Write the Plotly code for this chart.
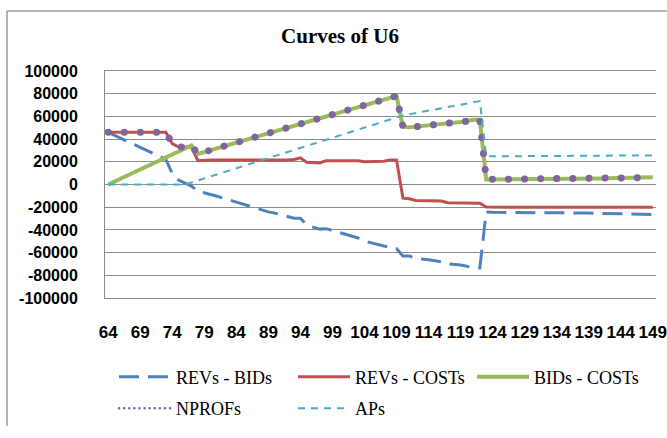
import plotly.graph_objects as go

# ---- data ----
periods = list(range(64, 150))
tick_vals = [64, 69, 74, 79, 84, 89, 94, 99, 104, 109, 114, 119, 124, 129, 134, 139, 144, 149]
tick_text = [str(v) for v in tick_vals]
y_ticks = [100000, 80000, 60000, 40000, 20000, 0, -20000, -40000, -60000, -80000, -100000]
y_text = ["100000", "80000", "60000", "40000", "20000", "0", "-20000", "-40000", "-60000", "-80000", "-100000"]

revs_bids = [46000, 43350, 40700, 38050, 35400, 32750, 30100, 27450, 24800, 22150,
             9500, 3850, 1200, -1400, -6000,
             -7100, -8800, -10400, -12100, -13700, -15400, -17500, -19200, -20800, -22500,
             -24100, -25200, -26900, -28500, -29700,
             -29800, -35500, -37600, -39300, -38900, -40600, -42200, -43800, -45500, -47100,
             -49800, -51400, -53100, -54200, -54900, -56500,
             -63000, -63000, -65000, -65500, -66400, -67200, -68100, -69900, -70200, -71000,
             -72000, -73500, -73500,
             -24300, -24500, -24500, -24500, -24600, -24600, -24700, -24800, -24800, -24900,
             -25000, -25000, -25000, -25000, -25100, -25100, -25200, -25300, -25300, -25400,
             -25500, -25600, -25700, -25800, -26000, -26200, -26400]

revs_costs = [46000] * 10 + [36000, 33000, 33000, 33000, 21000,
              21500, 21500, 21500, 21500, 21500, 21500, 21000, 21000, 21000, 21000,
              21000, 21500, 21500, 21500, 22000,
              23500, 19500, 19000, 19000, 21000, 21000, 21000, 21000, 21000, 21000,
              20000, 20000, 20000, 20500, 21500, 21500,
              -12000, -12500, -14000, -14000, -14200, -14200, -14500, -16000, -16000, -16000,
              -16000, -16500, -16500,
              -19800] + [-20000] * 26

bids_costs = [0, 2650, 5300, 7950, 10600, 13250, 15900, 18550, 21200, 23850, 26500, 29150, 31800, 34400,
              27000, 28600, 30300, 31900, 33600, 35200, 36900, 38500, 40200, 41800, 43500, 45100,
              46700, 48400, 50000, 51700, 53300, 55000, 56600, 58300, 59900, 61600, 63200, 64800,
              66500, 68100, 69800, 71400, 73100, 74700, 76400, 78000,
              51000, 50500, 51000, 51500, 52200, 53000, 53600, 53900, 54200, 55000, 56000, 57000, 57000,
              4500, 4500, 4500, 4500, 4600, 4600, 4700, 4800, 4800, 4900, 5000, 5000, 5000, 5000,
              5100, 5100, 5200, 5300, 5300, 5400, 5500, 5600, 5700, 5800, 6000, 6200, 6400]

nprofs = [46000] * 10 + [36000, 33000, 33000, 34400,
          27000, 28600, 30300, 31900, 33600, 35200, 36900, 38500, 40200, 41800, 43500, 45100,
          46700, 48400, 50000, 51700, 53300, 55000, 56600, 58300, 59900, 61600, 63200, 64800,
          66500, 68100, 69800, 71400, 73100, 74700, 76400, 78000,
          51000, 50500, 51000, 51500, 52200, 53000, 53600, 53900, 54200, 55000, 56000, 57000, 57000,
          4500, 4500, 4500, 4500, 4600, 4600, 4700, 4800, 4800, 4900, 5000, 5000, 5000, 5000,
          5100, 5100, 5200, 5300, 5300, 5400, 5500, 5600, 5700, 5800, 6000, 6200, 6400]

aps = [0] * 13 + [1790, 3580, 5370, 7160, 8950, 10740, 12530, 14320, 16110, 17900,
       19690, 21480, 23270, 25060, 26850, 28640, 30430, 32220, 34010, 35800,
       37590, 39380, 41170, 42960, 44750, 46540, 48330, 50120, 51910, 53700,
       55490, 57280, 59070, 60860,
       61900, 63000, 64000, 65100, 66100, 67200, 68200, 69300, 70300, 71400, 72400, 73500,
       24800, 24800, 24900, 24900, 24900, 25000, 25000, 25000, 25100, 25100, 25100, 25200,
       25200, 25200, 25300, 25300, 25300, 25400, 25400, 25400, 25500, 25500, 25500, 25600,
       25600, 25600, 25600]

# ---- figure ----
W, H = 667, 438
ML, MR, MT, MB = 105, 11, 71, 129
PW, PH = W - ML - MR, H - MT - MB

def px_x(px):
    return (px - ML) / PW

def px_y(py):
    return (H - MB - py) / PH

fig = go.Figure()
fig.add_trace(go.Scatter(x=periods, y=revs_bids, name="REVs - BIDs", mode="lines", legend="legend",
                         line=dict(color="#4F81BD", width=3, dash="20px,9px")))
fig.add_trace(go.Scatter(x=periods, y=revs_costs, name="REVs - COSTs", mode="lines", legend="legend",
                         line=dict(color="#C0504D", width=3)))
fig.add_trace(go.Scatter(x=periods, y=bids_costs, name="BIDs - COSTs", mode="lines", legend="legend",
                         line=dict(color="#9BBB59", width=4)))
fig.add_trace(go.Scatter(x=periods, y=nprofs, name="NPROFs", mode="lines", legend="legend2",
                         line=dict(color="#8064A2", width=7, dash="7px,9px")))
fig.add_trace(go.Scatter(x=periods, y=aps, name="APs", mode="lines", legend="legend2",
                         line=dict(color="#4BACC6", width=2, dash="7px,6px")))

grid = "#8c8c8c"
SERIF = "Liberation Serif, Times New Roman, serif"

def legend_box(py):
    return dict(x=px_x(114), y=px_y(py), orientation="h", xanchor="left", yanchor="middle",
                itemwidth=52, entrywidth=112, entrywidthmode="pixels",
                font=dict(family=SERIF, size=18, color="black"),
                bgcolor="rgba(0,0,0,0)")

fig.update_layout(
    width=W, height=H,
    margin=dict(l=ML, r=MR, t=MT, b=MB),
    paper_bgcolor="white", plot_bgcolor="white",
    font=dict(family=SERIF, color="black"),
    title=dict(text="<b>Curves of U6</b>", xref="container", yref="container",
               x=340 / W, y=1 - 36 / H, xanchor="center", yanchor="middle",
               font=dict(family=SERIF, size=21, color="black")),
    xaxis=dict(range=[63.5, 149.5], tickmode="array", tickvals=tick_vals, ticktext=tick_text,
               tickangle=0, showgrid=False, zeroline=False, showline=True, mirror=True,
               linecolor=grid, linewidth=1, ticks="", ticklabelstandoff=19, automargin=False,
               tickfont=dict(family="Liberation Sans", size=17, color="black", weight="bold")),
    yaxis=dict(range=[-100000, 100000], tickmode="array", tickvals=y_ticks, ticktext=y_text,
               showgrid=True, gridcolor=grid, gridwidth=1, zeroline=False, automargin=False,
               showline=True, linecolor=grid, linewidth=1, ticks="", ticklabelstandoff=23,
               tickfont=dict(family="Liberation Sans", size=16, color="black", weight="bold")),
    legend=legend_box(392),
    legend2=legend_box(425),
    showlegend=True,
)

# chart-area frame (left and top edges visible in the reference)
fig.add_shape(type="line", xref="paper", yref="paper", x0=px_x(7), x1=px_x(7), y0=px_y(8), y1=px_y(H + 5),
              line=dict(color="#9a9a9a", width=1.5))
fig.add_shape(type="line", xref="paper", yref="paper", x0=px_x(7), x1=px_x(W + 5), y0=px_y(8), y1=px_y(8),
              line=dict(color="#9a9a9a", width=1.5))

post = """
document.body.style.margin = '0';
var gd = document.getElementById('{plot_id}');
gd.querySelectorAll('path.js-line').forEach(function(p){
  var s = (p.style.stroke || '').replace(/\\s/g,'');
  if (s === 'rgb(128,100,162)') {
    if (p.closest('.scatterlayer')) {
      p.style.strokeLinecap = 'round';
      p.style.strokeDasharray = '0.1px,16px';
    } else {
      p.style.strokeWidth = '2.5px';
      p.style.strokeLinecap = 'round';
      p.style.strokeDasharray = '0.1px,5px';
    }
  }
});
"""
fig.write_html("out.html", post_script=post, config={"displayModeBar": False})
